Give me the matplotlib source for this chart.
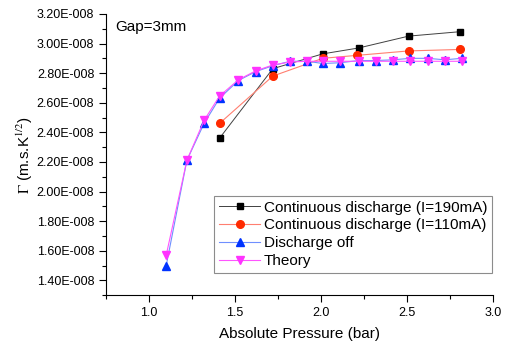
import numpy as np
import matplotlib
matplotlib.use("Agg")
import matplotlib.pyplot as plt
from matplotlib.ticker import FuncFormatter, MultipleLocator

plt.rcParams['font.family'] = ['Liberation Sans', 'DejaVu Sans']
plt.rcParams['mathtext.fontset'] = 'stix'

# data (y values in units of 1e-8 m.s.K^1/2)
p_190 = [1.41, 1.72, 2.01, 2.22, 2.51, 2.81]
g_190 = [2.36, 2.83, 2.93, 2.97, 3.05, 3.08]

p_110 = [1.41, 1.72, 2.01, 2.21, 2.51, 2.81]
g_110 = [2.46, 2.78, 2.90, 2.92, 2.95, 2.96]

p_off = [1.10, 1.22, 1.32, 1.41, 1.52, 1.62, 1.72, 1.82, 1.92, 2.01,
         2.11, 2.22, 2.32, 2.42, 2.52, 2.62, 2.72, 2.82]
g_off = [1.50, 2.21, 2.46, 2.63, 2.75, 2.81, 2.85, 2.88, 2.88, 2.865,
         2.87, 2.885, 2.885, 2.89, 2.90, 2.90, 2.89, 2.90]

p_th = [1.10, 1.22, 1.32, 1.41, 1.52, 1.62, 1.72, 1.82, 1.92, 2.01,
        2.11, 2.22, 2.32, 2.42, 2.52, 2.62, 2.72, 2.82]
g_th = [1.57, 2.21, 2.48, 2.645, 2.755, 2.815, 2.855, 2.875, 2.88, 2.88,
        2.88, 2.88, 2.88, 2.88, 2.88, 2.88, 2.88, 2.88]

fig = plt.figure(figsize=(5.05, 3.48), dpi=100)
ax = fig.add_axes([0.21, 0.152, 0.766, 0.808])

ms = 5
ax.plot(p_190, g_190, '-s', color='#404040', lw=0.7, mfc='black', mec='black', ms=ms,
        label='Continuous discharge (I=190mA)')
ax.plot(p_110, g_110, '-o', color='#ff7f70', lw=0.8, mfc='#ff2a00', mec='#ff2a00', ms=ms + 0.5,
        label='Continuous discharge (I=110mA)')
ax.plot(p_off, g_off, '-^', color='#6f8fff', lw=0.8, mfc='#0033ff', mec='#0033ff', ms=ms + 0.5,
        label='Discharge off')
ax.plot(p_th, g_th, '-v', color='#ff55ff', lw=0.8, mfc='#ff33ff', mec='#ff33ff', ms=ms + 0.5,
        label='Theory')

ax.set_xlim(0.75, 3.0)
ax.set_ylim(1.30, 3.20)
ax.xaxis.set_major_locator(MultipleLocator(0.5))
ax.xaxis.set_minor_locator(MultipleLocator(0.25))
ax.yaxis.set_major_locator(MultipleLocator(0.2))
ax.yaxis.set_minor_locator(MultipleLocator(0.1))
ax.yaxis.set_major_formatter(FuncFormatter(lambda v, pos: f"{v:.2f}E-008"))

ax.spines['top'].set_visible(False)
ax.spines['right'].set_visible(False)
ax.tick_params(which='major', direction='out', length=5, width=0.8, labelsize=9)
ax.tick_params(which='minor', direction='out', length=3, width=0.8)

ax.set_xlabel('Absolute Pressure (bar)', fontsize=11, labelpad=6)
ax.set_ylabel(r'$\Gamma$ (m.s.K$^{1/2}$)', fontsize=11, labelpad=1)

ax.text(0.025, 0.94, 'Gap=3mm', transform=ax.transAxes, fontsize=11)

leg = ax.legend(loc='lower right', bbox_to_anchor=(0.998, 0.08), fontsize=11,
                frameon=True, fancybox=False, edgecolor='#707070',
                handlelength=2.7, handletextpad=0.25, borderpad=0.3,
                labelspacing=0.25, borderaxespad=0)
leg.get_frame().set_linewidth(0.8)

fig.savefig('out.png', dpi=100)
